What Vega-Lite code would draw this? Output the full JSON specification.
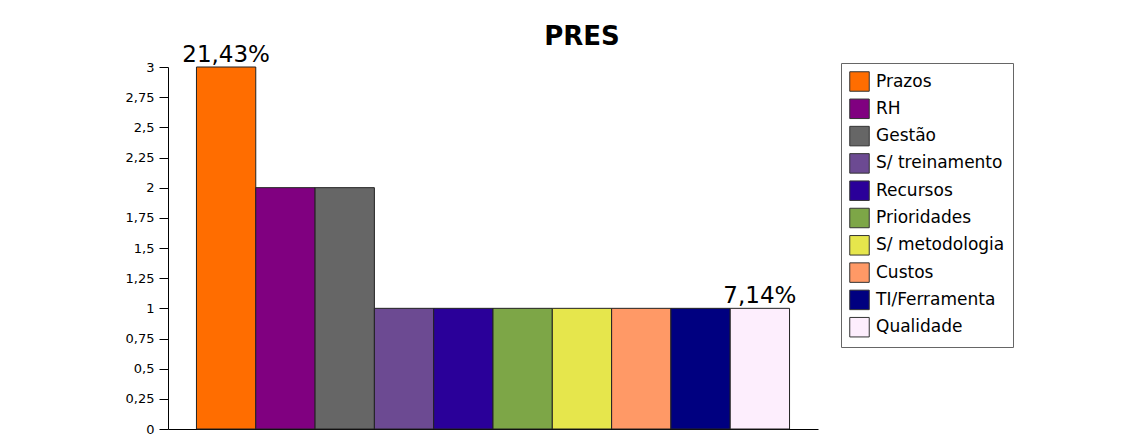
{
  "$schema": "https://vega.github.io/schema/vega-lite/v6.json",
  "width": 650,
  "height": 362,
  "autosize": {"type": "none"},
  "padding": {"left": 168, "top": 67, "right": 330, "bottom": 9},
  "background": "white",
  "title": {
    "text": "PRES",
    "font": "DejaVu Sans",
    "fontSize": 26,
    "fontWeight": "bold",
    "color": "black",
    "anchor": "middle",
    "baseline": "alphabetic",
    "dx": 89,
    "offset": -27
  },
  "data": {
    "values": [
      {"categoria": "Prazos", "valor": 3, "rotulo": "21,43%"},
      {"categoria": "RH", "valor": 2},
      {"categoria": "Gestão", "valor": 2},
      {"categoria": "S/ treinamento", "valor": 1},
      {"categoria": "Recursos", "valor": 1},
      {"categoria": "Prioridades", "valor": 1},
      {"categoria": "S/ metodologia", "valor": 1},
      {"categoria": "Custos", "valor": 1},
      {"categoria": "TI/Ferramenta", "valor": 1},
      {"categoria": "Qualidade", "valor": 1, "rotulo": "7,14%"}
    ]
  },
  "encoding": {
    "x": {
      "field": "categoria",
      "type": "nominal",
      "sort": null,
      "scale": {"paddingInner": 0, "paddingOuter": 0.48},
      "axis": {"labels": false, "ticks": false, "title": null, "domainColor": "black", "domainWidth": 1}
    },
    "y": {
      "field": "valor",
      "type": "quantitative",
      "scale": {"domain": [0, 3], "nice": false},
      "axis": {
        "title": null,
        "grid": false,
        "values": [0, 0.25, 0.5, 0.75, 1, 1.25, 1.5, 1.75, 2, 2.25, 2.5, 2.75, 3],
        "labelExpr": "replace(toString(datum.value), '.', ',')",
        "labelFont": "DejaVu Sans",
        "labelFontSize": 13,
        "labelColor": "black",
        "labelPadding": 5,
        "tickSize": 9,
        "tickColor": "black",
        "domainColor": "black"
      }
    }
  },
  "layer": [
    {
      "mark": {"type": "bar", "stroke": "#222", "strokeWidth": 1},
      "encoding": {
        "color": {
          "field": "categoria",
          "type": "nominal",
          "sort": null,
          "scale": {
            "domain": ["Prazos", "RH", "Gestão", "S/ treinamento", "Recursos", "Prioridades", "S/ metodologia", "Custos", "TI/Ferramenta", "Qualidade"],
            "range": ["#ff6d00", "#800080", "#666666", "#6c4a92", "#2a0099", "#7da647", "#e6e64c", "#ff9966", "#000080", "#fdeefd"]
          },
          "legend": {
            "title": null,
            "orient": "none",
            "legendX": 673,
            "legendY": -4,
            "strokeColor": "#666",
            "fillColor": "white",
            "padding": 8,
            "symbolType": "square",
            "symbolSize": 380,
            "symbolStrokeColor": "#333",
            "symbolStrokeWidth": 1,
            "symbolOpacity": 1,
            "labelFont": "DejaVu Sans",
            "labelFontSize": 17,
            "labelColor": "black",
            "labelOffset": 6,
            "labelLimit": 300,
            "rowPadding": 2.3
          }
        }
      }
    },
    {
      "transform": [{"filter": "isValid(datum.rotulo)"}],
      "mark": {"type": "text", "baseline": "alphabetic", "dy": -5.5, "font": "DejaVu Sans", "fontSize": 23, "color": "black"},
      "encoding": {"text": {"field": "rotulo"}}
    }
  ],
  "config": {"view": {"stroke": null}}
}
